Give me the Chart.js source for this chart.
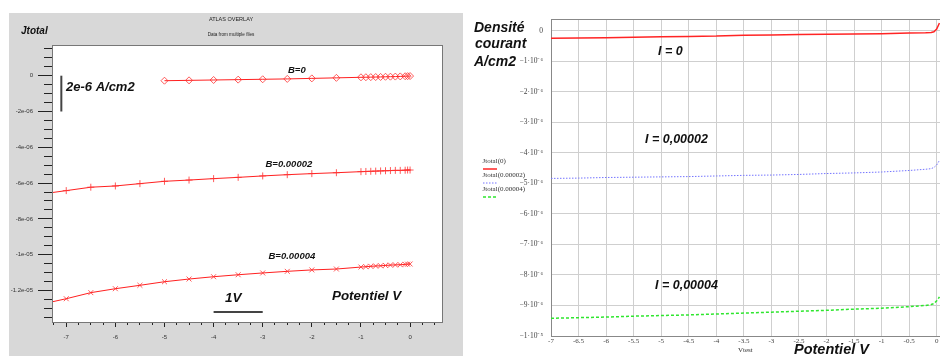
<!DOCTYPE html>
<html>
<head>
<meta charset="utf-8">
<script src="https://cdn.jsdelivr.net/npm/chart.js@4"></script>
<style>
body { margin: 0; background: #fff; width: 940px; height: 356px; overflow: hidden; position: relative; }
#left { position: absolute; left: 0; top: 0; }
#right { position: absolute; left: 470px; top: 0; }
</style>
</head>
<body>
<canvas id="left" width="470" height="356"></canvas>
<canvas id="right" width="470" height="356"></canvas>
<script>
// left panel : ATLAS overlay (values in 1e-6 A/cm2)
var voltsLeft = [-7.5, -7, -6.5, -6, -5.5, -5, -4.5, -4, -3.5, -3, -2.5, -2, -1.5, -1,
                 -0.9, -0.8, -0.7, -0.6, -0.5, -0.4, -0.3, -0.2, -0.1, -0.05, 0];
var jB0 = [null, null, null, null, null, -0.28, -0.26, -0.24, -0.22, -0.20, -0.18, -0.15, -0.12, -0.09,
           -0.085, -0.08, -0.075, -0.07, -0.06, -0.055, -0.05, -0.04, -0.03, -0.025, -0.02];
var jB2 = [-6.61, -6.42, -6.23, -6.16, -6.03, -5.90, -5.83, -5.75, -5.68, -5.60, -5.53, -5.47, -5.42, -5.36,
           -5.35, -5.34, -5.33, -5.32, -5.31, -5.30, -5.29, -5.29, -5.28, -5.27, -5.27];
var jB4 = [-12.76, -12.46, -12.12, -11.90, -11.71, -11.51, -11.36, -11.23, -11.12, -11.02, -10.93, -10.85, -10.80, -10.69,
           -10.67, -10.65, -10.63, -10.62, -10.60, -10.58, -10.57, -10.56, -10.54, -10.53, -10.52];
var xTicksLeft = [-7, -6, -5, -4, -3, -2, -1, 0];
var xTickLabelsLeft = ['-7', '-6', '-5', '-4', '-3', '-2', '-1', '0'];
var yTicksLeft = [0, -2e-6, -4e-6, -6e-6, -8e-6, -1e-5, -1.2e-5];
var yTickLabelsLeft = ['0', '-2e-06', '-4e-06', '-6e-06', '-8e-06', '-1e-05', '-1.2e-05'];

// right panel : Jtotal vs Vtest (values in 1e-6 A/cm2)
var voltsRight = [-7, -6.5, -6, -5.5, -5, -4.5, -4, -3.5, -3, -2.5, -2, -1.5, -1, -0.5, -0.2, -0.1, -0.05, 0, 0.05];
var jI0 = [-0.25, -0.24, -0.23, -0.22, -0.20, -0.19, -0.18, -0.15, -0.14, -0.13, -0.12, -0.11, -0.10, -0.08, -0.07, -0.06, -0.04, 0.05, 0.25];
var jI2 = [-4.84, -4.83, -4.81, -4.80, -4.79, -4.78, -4.76, -4.74, -4.73, -4.71, -4.68, -4.66, -4.63, -4.58, -4.54, -4.52, -4.48, -4.40, -4.25];
var jI4 = [-9.42, -9.40, -9.38, -9.35, -9.33, -9.31, -9.28, -9.25, -9.22, -9.19, -9.16, -9.12, -9.09, -9.04, -9.00, -8.97, -8.94, -8.85, -8.72];
var xTicksRight = [-7, -6.5, -6, -5.5, -5, -4.5, -4, -3.5, -3, -2.5, -2, -1.5, -1, -0.5, 0];
var xTickLabelsRight = ['-7', '-6.5', '-6', '-5.5', '-5', '-4.5', '-4', '-3.5', '-3', '-2.5', '-2', '-1.5', '-1', '-0.5', '0'];
var yTicksRight = [0, -1e-6, -2e-6, -3e-6, -4e-6, -5e-6, -6e-6, -7e-6, -8e-6, -9e-6, -1e-5];
var yTickLabelsRight = ['0', '\u22121\u00b710\u207b\u2076', '\u22122\u00b710\u207b\u2076', '\u22123\u00b710\u207b\u2076',
  '\u22124\u00b710\u207b\u2076', '\u22125\u00b710\u207b\u2076', '\u22126\u00b710\u207b\u2076', '\u22127\u00b710\u207b\u2076',
  '\u22128\u00b710\u207b\u2076', '\u22129\u00b710\u207b\u2076', '\u22121\u00b710\u207b\u2075'];
var legendRight = ['Jtotal(0)', 'Jtotal(0.00002)', 'Jtotal(0.00004)'];

function pts(xs, ys) {
    var out = [];
    for (var i = 0; i < xs.length; i++) {
        if (ys[i] != null) out.push({x: xs[i], y: ys[i] * 1e-6});
    }
    return out;
}

function steps(scale, from, to, step) {
    var t = [];
    for (var v = from; v <= to + step / 100; v += step) t.push({value: Math.round(v / step) * step});
    scale.ticks = t;
}

function txt(ctx, s, x, y, font, align) {
    ctx.font = font;
    ctx.textAlign = align || 'left';
    ctx.textBaseline = 'middle';
    ctx.fillText(s, x, y);
}

var BI = 'bold italic ';
var SANS = 'px "Liberation Sans", Arial, sans-serif';
var SERIF = '"Liberation Serif", "Times New Roman", serif';

var xMinL = -7.29, xMaxL = 0.65, yMinL = -13.76e-6, yMaxL = 1.715e-6;

var leftDeco = {
    id: 'leftDeco',
    beforeDraw: function(chart) {
        var c = chart.ctx, a = chart.chartArea;
        c.save();
        c.fillStyle = '#d8d8d8';
        c.fillRect(9, 13, 454, 343);
        c.fillStyle = '#ffffff';
        c.fillRect(a.left, a.top, a.right - a.left, a.bottom - a.top);
        c.restore();
    },
    afterDraw: function(chart) {
        var c = chart.ctx, a = chart.chartArea;
        var xs = chart.scales.x, ys = chart.scales.y;
        c.save();
        c.strokeStyle = '#777';
        c.lineWidth = 1;
        c.strokeRect(a.left + 0.5, a.top + 0.5, a.right - a.left, a.bottom - a.top);
        c.fillStyle = '#222';
        txt(c, 'ATLAS OVERLAY', 231, 19, '5.5px "Liberation Sans", Arial, sans-serif', 'center');
        txt(c, 'Data from multiple files', 231, 35, '4.6px "Liberation Sans", Arial, sans-serif', 'center');
        c.fillStyle = '#111';
        txt(c, 'Jtotal', 21, 31.5, BI + '10' + SANS);
        // 2e-6 scale bar
        c.strokeStyle = '#444';
        c.lineWidth = 2;
        c.beginPath();
        var bx = xs.getPixelForValue(-7.1);
        c.moveTo(bx, ys.getPixelForValue(0));
        c.lineTo(bx, ys.getPixelForValue(-2e-6));
        c.stroke();
        txt(c, '2e-6 A/cm2', 66, 87, BI + '13' + SANS);
        // 1V scale bar
        c.beginPath();
        var by = ys.getPixelForValue(-13.2e-6);
        c.moveTo(xs.getPixelForValue(-4), by);
        c.lineTo(xs.getPixelForValue(-3), by);
        c.stroke();
        txt(c, '1V', 225, 298, BI + '13.5' + SANS);
        txt(c, 'Potentiel V', 332, 296, BI + '13.4' + SANS);
        txt(c, 'B=0', 288, 70, BI + '9.5' + SANS);
        txt(c, 'B=0.00002', 265.5, 164.3, BI + '9.5' + SANS);
        txt(c, 'B=0.00004', 268.5, 256.3, BI + '9.5' + SANS);
        c.restore();
    }
};

new Chart(document.getElementById('left'), {
    type: 'line',
    data: {
        datasets: [
            {label: 'B=0', data: pts(voltsLeft, jB0), borderColor: '#ff2020', borderWidth: 1,
             pointStyle: 'rectRot', pointRadius: 3.5, pointBorderColor: '#ff3030', pointBorderWidth: 0.8,
             pointBackgroundColor: 'rgba(255,255,255,0)', xAxisID: 'x', yAxisID: 'y'},
            {label: 'B=0.00002', data: pts(voltsLeft, jB2), borderColor: '#ff2020', borderWidth: 1,
             pointStyle: 'cross', pointRadius: 3.5, pointBorderColor: '#ff3030', pointBorderWidth: 0.8,
             xAxisID: 'x', yAxisID: 'y'},
            {label: 'B=0.00004', data: pts(voltsLeft, jB4), borderColor: '#ff2020', borderWidth: 1,
             pointStyle: 'crossRot', pointRadius: 3.5, pointBorderColor: '#ff3030', pointBorderWidth: 0.8,
             xAxisID: 'x', yAxisID: 'y'}
        ]
    },
    options: {
        responsive: false,
        animation: false,
        layout: {padding: {left: 9, top: 45, right: 28, bottom: 0}},
        plugins: {legend: {display: false}, tooltip: {enabled: false}},
        scales: {
            x: {
                type: 'linear', position: 'bottom', min: xMinL, max: xMaxL, weight: 1,
                afterFit: function(s) { s.height = 34; },
                afterBuildTicks: function(s) { s.ticks = xTicksLeft.map(function(v) { return {value: v}; }); },
                ticks: {callback: function(v, i) { return xTickLabelsLeft[i]; }, autoSkip: false, maxRotation: 0,
                        font: {size: 6, family: 'Liberation Sans'}, color: '#333', padding: 7},
                grid: {drawOnChartArea: false, tickLength: 5, color: '#222'},
                border: {color: '#666'}
            },
            xMinor: {
                type: 'linear', position: 'bottom', min: xMinL, max: xMaxL, weight: 0,
                afterFit: function(s) { s.height = 0; },
                afterBuildTicks: function(s) { steps(s, -7.25, 0.5, 0.25); },
                ticks: {display: false, autoSkip: false},
                grid: {drawOnChartArea: false, tickLength: 3, color: '#222'},
                border: {display: false}
            },
            y: {
                type: 'linear', position: 'left', min: yMinL, max: yMaxL, weight: 1,
                afterFit: function(s) { s.width = 43; },
                afterBuildTicks: function(s) { s.ticks = yTicksLeft.map(function(v) { return {value: v}; }); },
                ticks: {callback: function(v, i) { return yTickLabelsLeft[i]; }, autoSkip: false,
                        font: {size: 6, family: 'Liberation Sans'}, color: '#333', padding: 5},
                grid: {drawOnChartArea: false, tickLength: 14, color: '#222'},
                border: {color: '#666'}
            },
            yMinor: {
                type: 'linear', position: 'left', min: yMinL, max: yMaxL, weight: 0,
                afterFit: function(s) { s.width = 0; },
                afterBuildTicks: function(s) { steps(s, -13.5e-6, 1.5e-6, 0.5e-6); },
                ticks: {display: false, autoSkip: false},
                grid: {drawOnChartArea: false, tickLength: 8, color: '#222'},
                border: {display: false}
            }
        }
    },
    plugins: [leftDeco]
});

var rightDeco = {
    id: 'rightDeco',
    afterDraw: function(chart) {
        var c = chart.ctx, a = chart.chartArea;
        c.save();
        c.strokeStyle = '#888';
        c.lineWidth = 1;
        c.beginPath();
        c.moveTo(a.left, a.top + 0.5);
        c.lineTo(a.right, a.top + 0.5);
        c.stroke();
        c.fillStyle = '#111';
        txt(c, 'Densité', 4, 28, BI + '14' + SANS);
        txt(c, 'courant', 5, 44.5, BI + '14' + SANS);
        txt(c, 'A/cm2', 4, 62, BI + '14' + SANS);
        txt(c, 'I = 0', 188, 52, BI + '12.5' + SANS);
        txt(c, 'I = 0,00002', 175, 140, BI + '12.5' + SANS);
        txt(c, 'I = 0,00004', 185, 286, BI + '12.5' + SANS);
        txt(c, 'Potentiel V', 324, 350, BI + '14.5' + SANS);
        c.fillStyle = '#333';
        txt(c, 'Vtest', 268, 350.5, '7px ' + SERIF);
        // legend
        var ds = chart.data.datasets;
        for (var i = 0; i < ds.length; i++) {
            var ly = 161 + i * 14;
            c.fillStyle = '#333';
            txt(c, legendRight[i], 12.5, ly, '7px ' + SERIF);
            c.strokeStyle = ds[i].borderColor;
            c.lineWidth = ds[i].borderWidth;
            c.setLineDash(ds[i].borderDash || []);
            c.beginPath();
            c.moveTo(13, ly + 8);
            c.lineTo(27, ly + 8);
            c.stroke();
        }
        c.restore();
    }
};

new Chart(document.getElementById('right'), {
    type: 'line',
    data: {
        datasets: [
            {label: legendRight[0], data: pts(voltsRight, jI0), borderColor: '#ff2424', borderWidth: 1.5, pointRadius: 0},
            {label: legendRight[1], data: pts(voltsRight, jI2), borderColor: '#7474ff', borderWidth: 1, borderDash: [1.5, 1.5], pointRadius: 0},
            {label: legendRight[2], data: pts(voltsRight, jI4), borderColor: '#2ee62e', borderWidth: 1.5, borderDash: [3, 2], pointRadius: 0}
        ]
    },
    options: {
        responsive: false,
        animation: false,
        layout: {padding: {left: 0, top: 19, right: 0, bottom: 0}},
        plugins: {legend: {display: false}, tooltip: {enabled: false}},
        scales: {
            x: {
                type: 'linear', min: -7, max: 0.06,
                afterFit: function(s) { s.height = 20; },
                afterBuildTicks: function(s) { s.ticks = xTicksRight.map(function(v) { return {value: v}; }); },
                ticks: {callback: function(v, i) { return xTickLabelsRight[i]; }, autoSkip: false, maxRotation: 0,
                        font: {size: 7, family: SERIF}, color: '#444', padding: 1},
                grid: {color: '#cfcfcf', drawTicks: false},
                border: {color: '#888'}
            },
            y: {
                type: 'linear', min: -1e-5, max: 0.38e-6,
                afterFit: function(s) { s.width = 81; },
                afterBuildTicks: function(s) { s.ticks = yTicksRight.map(function(v) { return {value: v}; }); },
                ticks: {callback: function(v, i) { return yTickLabelsRight[i]; }, autoSkip: false,
                        font: {size: 7.5, family: SERIF}, color: '#444', padding: 8},
                grid: {color: '#cfcfcf', drawTicks: false},
                border: {color: '#888'}
            }
        }
    },
    plugins: [rightDeco]
});
</script>
</body>
</html>
